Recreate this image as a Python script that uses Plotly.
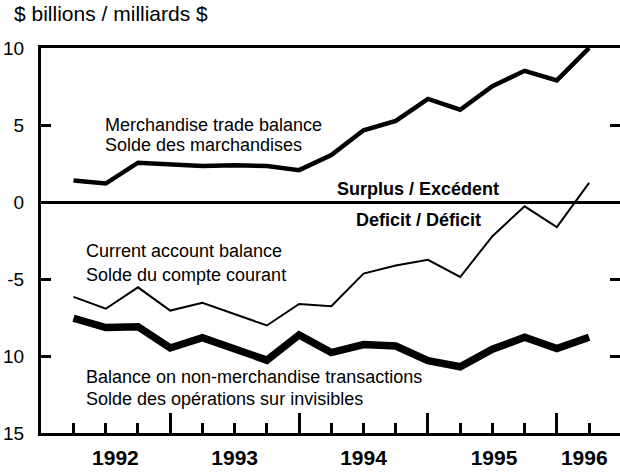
import plotly.graph_objects as go

# Quarterly observations, 1992Q2 .. 1996Q2
quarters = ["1992Q2", "1992Q3", "1992Q4",
            "1993Q1", "1993Q2", "1993Q3", "1993Q4",
            "1994Q1", "1994Q2", "1994Q3", "1994Q4",
            "1995Q1", "1995Q2", "1995Q3", "1995Q4",
            "1996Q1", "1996Q2"]
merchandise = [1.40, 1.20, 2.55, 2.46, 2.33, 2.38, 2.33, 2.07, 3.05, 4.66,
               5.27, 6.69, 5.99, 7.52, 8.52, 7.90, 10.0]
current_account = [-6.16, -6.93, -5.54, -7.05, -6.54, -7.27, -8.02, -6.62, -6.77,
                   -4.65, -4.13, -3.75, -4.87, -2.22, -0.28, -1.63, 1.24]
non_merchandise = [-7.55, -8.15, -8.10, -9.48, -8.81, -9.52, -10.27, -8.63, -9.78,
                   -9.26, -9.35, -10.30, -10.70, -9.56, -8.78, -9.52, -8.78]

year_labels = ["1992", "1993", "1994", "1995", "1996"]
y_tickvals = [10, 5, 0, -5, -10, -15]
y_ticktext = ["10", "5", "0", "-5", "10", "15"]

FONT = "Liberation Sans, Arial, Helvetica, sans-serif"
xi = list(range(len(quarters)))
year_pos = [1.3, 5.0, 9.0, 13.05, 15.85]
major_ticks = [3, 7, 11, 15]
XR = [-1.01, 16.96]
YR = [-15, 10]

fig = go.Figure()
fig.add_trace(go.Scatter(x=xi, y=current_account, mode="lines",
                         line=dict(color="black", width=2), hoverinfo="skip",
                         showlegend=False, text=quarters))
fig.add_trace(go.Scatter(x=xi, y=non_merchandise, mode="lines",
                         line=dict(color="black", width=7.5), hoverinfo="skip",
                         showlegend=False, text=quarters))
fig.add_trace(go.Scatter(x=xi, y=merchandise, mode="lines",
                         line=dict(color="black", width=4.5), hoverinfo="skip",
                         showlegend=False, text=quarters, cliponaxis=False))
# invisible trace to anchor secondary axes
fig.add_trace(go.Scatter(x=[None], y=[None], xaxis="x2", yaxis="y2",
                         showlegend=False, hoverinfo="skip"))

fig.update_layout(
    width=620, height=472,
    margin=dict(l=41, r=0, t=48, b=39, autoexpand=False),
    paper_bgcolor="white", plot_bgcolor="white",
    font=dict(family=FONT, color="black"),
    xaxis=dict(range=XR, showgrid=False, zeroline=False, automargin=False,
               showline=True, linecolor="black", linewidth=3, mirror=True,
               tickvals=major_ticks, ticks="inside", ticklen=20, tickwidth=3,
               tickcolor="black", showticklabels=False,
               minor=dict(tick0=0, dtick=1, ticks="inside", ticklen=10,
                          tickwidth=3, tickcolor="black")),
    yaxis=dict(range=YR, showgrid=False, zeroline=True, zerolinecolor="black",
               zerolinewidth=3, showline=True, linecolor="black", linewidth=3,
               automargin=False,
               tickvals=y_tickvals, ticktext=y_ticktext, ticks="inside",
               ticklen=10, tickwidth=3, tickcolor="black",
               tickfont=dict(size=19), ticklabelstandoff=10),
    xaxis2=dict(range=XR, overlaying="x", side="bottom", anchor="y",
                showgrid=False, zeroline=False, showline=False, automargin=False,
                tickvals=year_pos, ticktext=[f"<b>{y}</b>" for y in year_labels],
                ticks="", tickfont=dict(size=21, family=FONT, color="black"),
                ticklabelstandoff=10),
    yaxis2=dict(range=YR, overlaying="y", side="right", anchor="x",
                showgrid=False, zeroline=False, showline=False, automargin=False,
                tickvals=[5, -5, -10], ticks="inside", ticklen=10,
                tickwidth=3, tickcolor="black", showticklabels=False),
)

def label(text, x, y, bold=False, anchor="left"):
    fig.add_annotation(x=x, y=y, xref="x", yref="y", text=f"<b>{text}</b>" if bold else text,
                       showarrow=False, xanchor=anchor, yanchor="middle",
                       font=dict(family=FONT, size=18, color="black"))

label("Merchandise trade balance", 0.92, 5.0)
label("Solde des marchandises", 0.92, 3.70)
label("Surplus / Excédent", 10.68, 0.86, bold=True, anchor="center")
label("Deficit / Déficit", 10.70, -1.14, bold=True, anchor="center")
label("Current account balance", 0.33, -3.20)
label("Solde du compte courant", 0.33, -4.72)
label("Balance on non-merchandise transactions", 0.33, -11.35)
label("Solde des opérations sur invisibles", 0.33, -12.76)

fig.add_annotation(x=0, y=1, xref="paper", yref="paper", xshift=-29, yshift=35,
                   xanchor="left", yanchor="middle", showarrow=False,
                   text="$ billions / milliards $",
                   font=dict(family=FONT, size=21, color="black"))

fig.write_html("out.html", config={"displayModeBar": False},
               post_script="document.body.style.margin='0px';"
                           "document.body.style.overflow='hidden';")
